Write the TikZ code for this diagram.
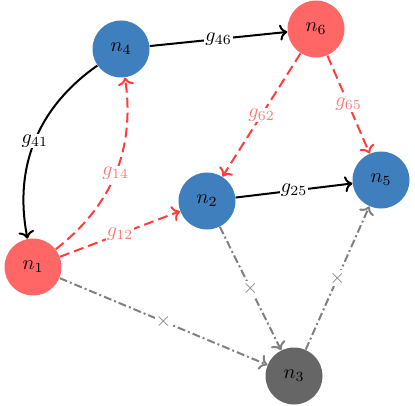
\documentclass[tikz,border=0pt]{standalone}
\usetikzlibrary{arrows.meta}
\definecolor{nred}{RGB}{255,102,102}
\definecolor{nblue}{RGB}{64,127,190}
\definecolor{ngray}{RGB}{102,102,102}
\definecolor{ered}{RGB}{255,60,60}
\definecolor{lred}{RGB}{255,120,120}
\tikzset{
  vert/.style={circle, minimum size=28.5pt, inner sep=0pt, font=\normalsize},
  redv/.style={vert, fill=nred},
  bluev/.style={vert, fill=nblue},
  grayv/.style={vert, fill=ngray},
  edgebase/.style={line width=1pt, ->},
  blk/.style={edgebase, black},
  redd/.style={edgebase, ered, dash pattern=on 5pt off 2.5pt},
  grd/.style={edgebase, gray, dash pattern=on 4pt off 1.5pt on 1pt off 1.5pt},
  lbl/.style={fill=white, inner sep=0.6pt, text=black},
  rlbl/.style={fill=white, inner sep=0.6pt, text=lred},
  xlbl/.style={fill=white, inner sep=0.6pt, text=gray},
}
\begin{document}
\begin{tikzpicture}[x=0.5pt, y=-0.5pt]
\useasboundingbox (0,0) rectangle (415,405);
\node[redv]  (n1) at (33,267) {$n_1$};
\node[bluev] (n2) at (207,201) {$n_2$};
\node[grayv] (n3) at (294,376) {$n_3$};
\node[bluev] (n4) at (121,49) {$n_4$};
\node[bluev] (n5) at (381,180) {$n_5$};
\node[redv]  (n6) at (316,29) {$n_6$};

\draw[blk] (n4) -- node[lbl] {$g_{46}$} (n6);
\draw[blk] (n4) to[bend right=33] node[lbl] {$g_{41}$} (n1);
\draw[blk] (n2) -- node[lbl] {$g_{25}$} (n5);
\draw[redd] (n1) to[bend right=30] node[rlbl] {$g_{14}$} (n4);
\draw[redd] (n1) -- node[rlbl] {$g_{12}$} (n2);
\draw[redd] (n6) -- node[rlbl] {$g_{62}$} (n2);
\draw[redd] (n6) -- node[rlbl] {$g_{65}$} (n5);
\draw[grd] (n1) -- node[xlbl] {$\times$} (n3);
\draw[grd] (n2) -- node[xlbl] {$\times$} (n3);
\draw[grd] (n3) -- node[xlbl] {$\times$} (n5);
\end{tikzpicture}
\end{document}
